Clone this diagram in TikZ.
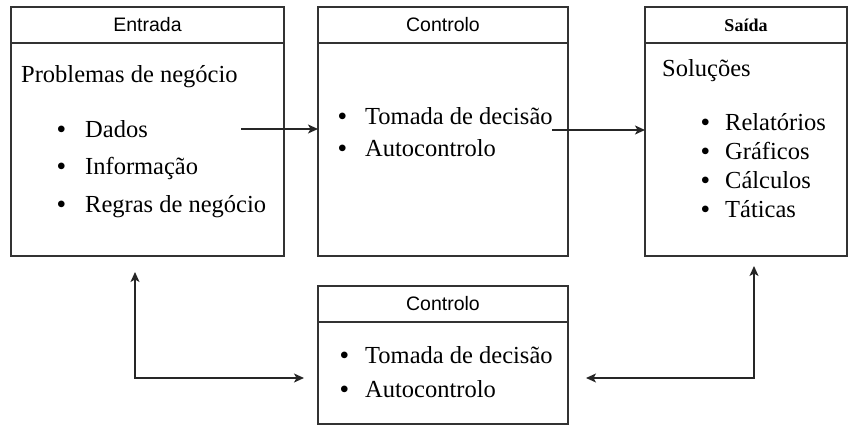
\documentclass[tikz,border=0pt]{standalone}
\usepackage{fontspec}
\setmainfont{Liberation Serif}
\setsansfont{Liberation Sans}
\usetikzlibrary{arrows.meta,positioning}
\newcommand{\bala}[2]{\makebox[#1][l]{\textbf{\textbullet}}#2}
\tikzset{
	ponta/.tip={Stealth[length=10pt,width=9pt,inset=2.5pt]},
	caixa/.style={draw=black!80, line width=1.3pt, rectangle, inner sep=0pt, outer sep=0pt, anchor=north west},
	titulo/.style={caixa, minimum height=36pt, font=\sffamily\fontsize{19.5}{20}\selectfont},
	texto/.style={anchor=base west, inner sep=0pt, text height=17pt, text depth=5pt, font=\fontsize{24.5}{26}\selectfont},
	seta/.style={draw=black!85, line width=1.3pt, -ponta},
	dupla/.style={draw=black!85, line width=1.3pt, ponta-ponta},
}
\begin{document}
\begin{tikzpicture}[x=1pt, y=-1pt]
	\useasboundingbox (0,0) rectangle (849,425);
	\node[titulo, minimum width=273pt] (ent) at (11,7) {Entrada};
	\node[caixa, minimum width=273pt, minimum height=213pt] (entc) at (ent.south west) {};
	\node[titulo, minimum width=250pt] (ctl) at (318,7) {Controlo};
	\node[caixa, minimum width=250pt, minimum height=213pt] (ctlc) at (ctl.south west) {};
	\node[titulo, minimum width=202pt, font=\bfseries\fontsize{18}{18}\selectfont] (sai) at (645,7) {Saída};
	\node[caixa, minimum width=202pt, minimum height=213pt] (saic) at (sai.south west) {};
	\node[titulo, minimum width=250pt] (ctlb) at (318,286) {Controlo};
	\node[caixa, minimum width=250pt, minimum height=102pt] (ctlbc) at (ctlb.south west) {};
	\node[texto] (prob) at (21,83) {Problemas de negócio};
	\foreach \t [count=\i] in {Dados, Informação, Regras de negócio}
		\node[texto] (ent-\i) at (57,101+37*\i) {\bala{28pt}{\t}};
	\foreach \t [count=\i] in {Tomada de decisão, Autocontrolo}
		\node[texto] (ctl-\i) at (338,93+32*\i) {\bala{27pt}{\t}};
	\node[texto] (sol) at (662,77) {Soluções};
	\foreach \t [count=\i] in {Relatórios, Gráficos, Cálculos, Táticas}
		\node[texto] (sai-\i) at (701,102+29*\i) {\bala{24pt}{\t}};
	\foreach \t [count=\i] in {Tomada de decisão, Autocontrolo}
		\node[texto] (ctlb-\i) at (340,329+34*\i) {\bala{25pt}{\t}};
	\coordinate (p1) at (241,129);
	\coordinate (p2) at (552,130);
	\coordinate (q1) at (135,272);
	\coordinate (q2) at (304,378);
	\coordinate (r1) at (586,378);
	\coordinate (r2) at (754,266);
	\path (p1) edge[seta] (p1 -| ctlc.west);
	\path (p2) edge[seta] (p2 -| saic.west);
	\path (q1) edge[dupla, to path={|- (\tikztotarget)}] (q2);
	\path (r1) edge[dupla, to path={-| (\tikztotarget)}] (r2);
\end{tikzpicture}
\end{document}
